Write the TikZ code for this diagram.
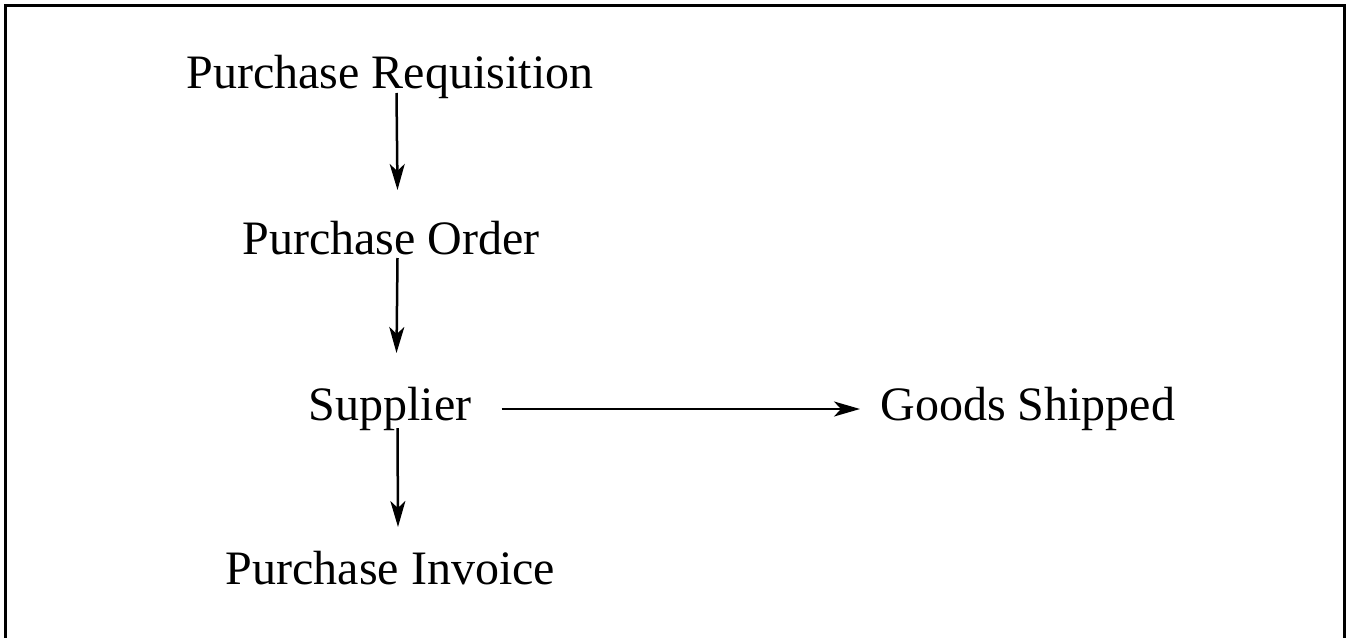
\documentclass[tikz,border=0pt]{standalone}
\usepackage{fontspec}
\setmainfont{Liberation Serif}
\usetikzlibrary{arrows.meta}
\begin{document}
\begin{tikzpicture}[x=1pt,y=1pt,
  lbl/.style={inner sep=0pt,font=\fontsize{24}{28}\selectfont},
  flow/.style={line width=1.25pt,-{Stealth[length=13pt,width=7.5pt,inset=3.5pt]}},
  frame/.style={line width=1.5pt}]
\useasboundingbox (0,0) rectangle (674,-318.5);
\draw[frame] (2.75,-320) -- (2.75,-2.75) -- (672.25,-2.75) -- (672.25,-320);
\node[lbl,anchor=base] (req) at (195,-44) {Purchase Requisition};
\node[lbl,anchor=base] (ord) at (195.5,-127) {Purchase Order};
\node[lbl,anchor=base] (sup) at (195,-210) {Supplier};
\node[lbl,anchor=base] (inv) at (195.25,-292) {Purchase Invoice};
\node[lbl,anchor=base west] (goods) at (440,-210) {Goods Shipped};
\draw[flow] ([shift={(3.25pt,-2.5pt)}]req.base) -- ([shift={(3.25pt,32pt)}]ord.base);
\draw[flow] ([shift={(3.25pt,-2pt)}]ord.base) -- ([shift={(3.25pt,33.5pt)}]sup.base);
\draw[flow] ([shift={(3.75pt,-4pt)}]sup.base) -- ([shift={(3.75pt,28.5pt)}]inv.base);
\draw[flow] ([shift={(15pt,5.5pt)}]sup.base east) -- ([shift={(-10pt,5.5pt)}]goods.base west);
\end{tikzpicture}
\end{document}
